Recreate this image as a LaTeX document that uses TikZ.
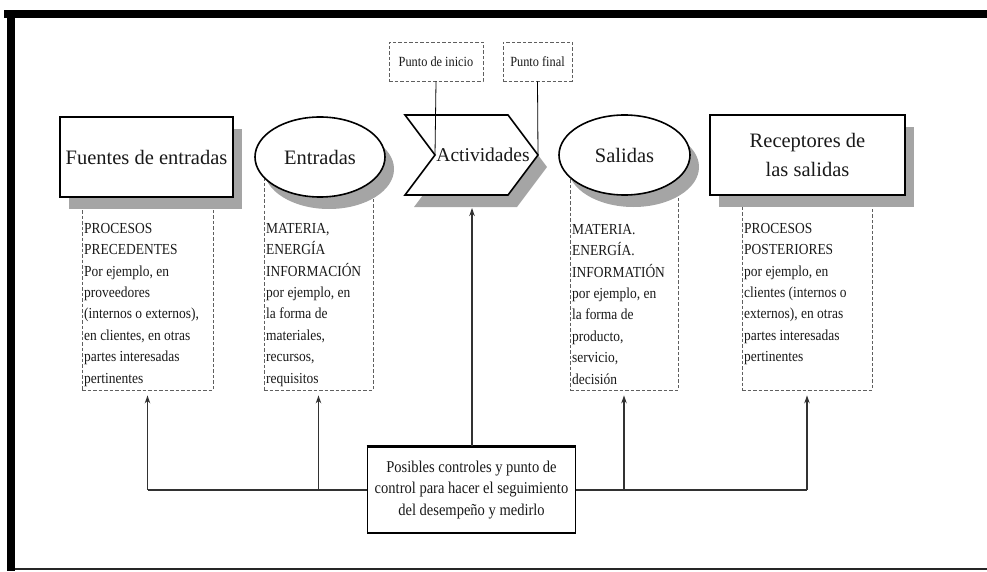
\documentclass[tikz,border=0pt]{standalone}
\usepackage{fontspec}
\setmainfont{Liberation Serif}
\newfontfamily\cond[FakeStretch=0.88]{Liberation Serif}
\usetikzlibrary{shapes.geometric,arrows.meta,shadows}
\definecolor{shad}{RGB}{165,165,165}
\definecolor{txt}{RGB}{25,25,25}
\definecolor{dashc}{RGB}{95,95,95}
\definecolor{linec}{RGB}{50,50,50}
\begin{document}
\begin{tikzpicture}[x=1pt,y=-1pt,
  shd/.style={drop shadow={shadow xshift=9pt,shadow yshift=-12pt,fill=shad,opacity=1}},
  bigbox/.style={draw=black,line width=1.6pt,fill=white,text=txt,inner sep=0pt,
    font=\fontsize{20.5}{29}\selectfont,align=center,shd},
  bigell/.style={bigbox,ellipse},
  dbox/.style={draw=dashc,line width=0.8pt,dash pattern=on 3.5pt off 2pt,inner sep=0pt},
  smalltxt/.style={anchor=north west,inner sep=0pt,align=left,text=txt,
    font=\fontsize{15.3}{21.4}\cond},
  ptbox/.style={dbox,text=txt,font=\fontsize{14}{16}\cond},
  conn/.style={draw=linec,line width=1.1pt},
  arr/.style={conn,-{Stealth[length=8pt,width=5.5pt]}},
  ctrlbox/.style={draw=black,line width=1.6pt,fill=white,text=txt,align=center,
    font=\fontsize{16.5}{21.8}\cond,inner sep=0pt}
]
\useasboundingbox (0,0) rectangle (987,572);
% frame
\fill[black] (4,10) rectangle (987,18);
\fill[black] (7,10) rectangle (15,571);
\draw[line width=2pt,black!85] (15,569) -- (987,569);

% dashed description boxes (behind the shapes)
\node[dbox,minimum width=131pt,minimum height=190pt] (d1) at (147.5,295) {};
\node[dbox,minimum width=109pt,minimum height=220pt] (d2) at (318.5,280) {};
\node[dbox,minimum width=108pt,minimum height=220pt] (d3) at (624,280) {};
\node[dbox,minimum width=130pt,minimum height=190pt] (d4) at (807,295) {};

% main shapes
\node[bigbox,minimum width=173pt,minimum height=80pt] (fue) at (146.5,157) {Fuentes de entradas};
\node[bigell,minimum width=130pt,minimum height=80pt] (ent) at (320,157) {Entradas};
\node[bigell,minimum width=131pt,minimum height=80pt] (sal) at (624.5,155) {Salidas};
\node[bigbox,minimum width=195pt,minimum height=80pt] (rec) at (807.5,155) {Receptores de\\las salidas};

% chevron Actividades
\fill[shad] (414,127) -- (517,127) -- (547,167) -- (517,207) -- (414,207) -- (444,167) -- cycle;
\draw[line width=1.6pt,fill=white] (405,115) -- (508,115) -- (538,155) -- (508,195) -- (405,195) -- (435,155) -- cycle;
\coordinate (notch) at (435,155);
\coordinate (tip) at (538,155);
\coordinate (actb) at (472,208);
\node[text=txt,font=\fontsize{19.5}{24}\selectfont,inner sep=0pt] (act) at (483,155) {Actividades};

% start / end points
\node[ptbox,minimum width=94pt,minimum height=39pt] (pi) at (436,61.5) {Punto de inicio};
\node[ptbox,minimum width=69pt,minimum height=39pt] (pf) at (537.5,61.5) {Punto final};
\draw[line width=0.8pt] (pi.south) -- (notch);
\draw[line width=0.8pt] (pf.south) -- (tip);

% texts
\node[smalltxt] (t1) at (84,223) {PROCESOS\\PRECEDENTES\\Por ejemplo, en\\proveedores\\(internos o externos),\\en clientes, en otras\\partes interesadas\\pertinentes};
\node[smalltxt] (t2) at (266,223) {MATERIA,\\ENERGÍA\\INFORMACIÓN\\por ejemplo, en\\la forma de\\materiales,\\recursos,\\requisitos};
\node[smalltxt] (t3) at (572,224) {MATERIA.\\ENERGÍA.\\INFORMATIÓN\\por ejemplo, en\\la forma de\\producto,\\servicio,\\decisión};
\node[smalltxt] (t4) at (744,223) {PROCESOS\\POSTERIORES\\por ejemplo, en\\clientes (internos o\\externos), en otras\\partes interesadas\\pertinentes};

% control box and connectors
\coordinate (hl) at (147.5,490);
\coordinate (hr) at (807,490);
\draw[conn,line width=1.6pt] (hl) -- (hr);
\node[ctrlbox,minimum width=208pt,minimum height=86pt] (ctrl) at (471.5,490)
  {Posibles controles y punto de\\control para hacer el seguimiento\\del desempeño y medirlo};
\draw[line width=3pt] (ctrl.north west) -- (ctrl.north east);
\draw[arr,shorten >=5pt] (d1.south |- hl) -- (d1.south);
\draw[arr,shorten >=5pt] (d2.south |- hl) -- (d2.south);
\draw[arr,shorten >=5pt] (d3.south |- hl) -- (d3.south);
\draw[arr,shorten >=5pt] (d4.south |- hl) -- (d4.south);
\draw[arr] (ctrl.north -| actb) -- (actb);
\end{tikzpicture}
\end{document}
